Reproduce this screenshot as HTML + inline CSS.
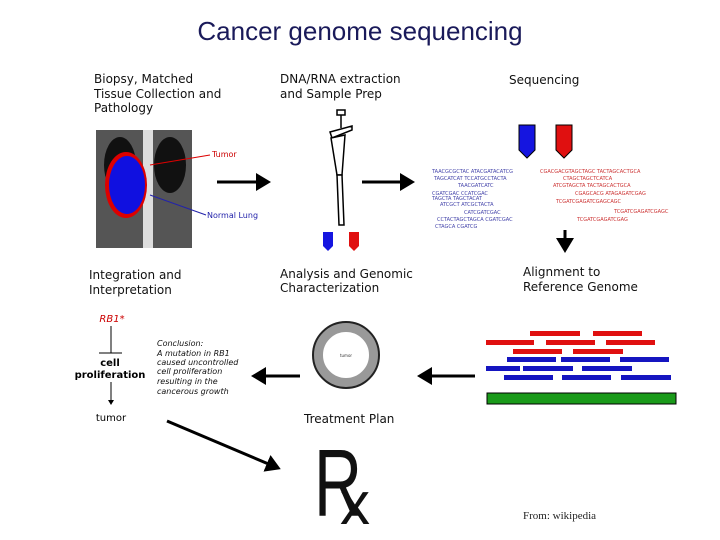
<!DOCTYPE html>
<html><head><meta charset="utf-8"><style>
body{margin:0;background:#fff}
svg{display:block}
text{font-family:"DejaVu Sans","Liberation Sans",sans-serif}
</style></head><body>
<svg width="720" height="540" viewBox="0 0 720 540">
<defs><marker id="ah" markerWidth="6" markerHeight="6" refX="4" refY="3" orient="auto" markerUnits="strokeWidth"><path d="M0,0 L5,3 L0,6 z" fill="#000"/></marker></defs>
<text x="360" y="40" text-anchor="middle" style="font-family:'Liberation Sans',sans-serif" font-size="26" fill="#1a1a5a">Cancer genome sequencing</text>
<g font-size="12" fill="#111">
<text x="94" y="83">Biopsy, Matched</text><text x="94" y="98">Tissue Collection and</text><text x="94" y="112">Pathology</text>
<text x="280" y="83">DNA/RNA extraction</text><text x="280" y="98">and Sample Prep</text>
<text x="509" y="84">Sequencing</text>
<text x="89" y="279">Integration and</text><text x="89" y="294">Interpretation</text>
<text x="280" y="278">Analysis and Genomic</text><text x="280" y="292">Characterization</text>
<text x="523" y="276">Alignment to</text><text x="523" y="291">Reference Genome</text>
<text x="304" y="423">Treatment Plan</text>
</g>
<rect x="96" y="130" width="96" height="118" fill="#555"/>
<ellipse cx="120" cy="165" rx="16" ry="28" fill="#111"/><ellipse cx="170" cy="165" rx="16" ry="28" fill="#111"/>
<rect x="143" y="130" width="10" height="118" fill="#ddd"/>
<ellipse cx="126" cy="185" rx="21" ry="33" fill="#d00"/><ellipse cx="127" cy="185" rx="18" ry="29" fill="#1010e0"/>
<line x1="210" y1="155" x2="150" y2="165" stroke="#d00"/><text x="212" y="157" font-size="8" fill="#c00">Tumor</text>
<line x1="206" y1="215" x2="150" y2="195" stroke="#22a"/><text x="207" y="218" font-size="8" fill="#22a">Normal Lung</text>
<g stroke="#000" stroke-width="3" marker-end="url(#ah)">
<line x1="217" y1="182" x2="268" y2="182"/>
<line x1="362" y1="182" x2="412" y2="182"/>
<line x1="565" y1="230" x2="565" y2="250"/>
<line x1="475" y1="376" x2="420" y2="376"/>
<line x1="300" y1="376" x2="254" y2="376"/>
<line x1="167" y1="421" x2="278" y2="468"/>
</g>
<g stroke="#000" stroke-width="1.5" fill="#fff">
<rect x="337" y="110" width="8" height="5"/><line x1="341" y1="115" x2="341" y2="128"/>
<path d="M330,132 L352,126 L352,130 L332,138 z"/>
<path d="M331,138 L345,135 L342,175 L337,175 z"/>
<path d="M337,175 L342,175 L344,225 L339,225 z"/>
</g>
<path d="M323,232h10v14l-5,5l-5,-5z" fill="#1515e0"/><path d="M349,232h10v14l-5,5l-5,-5z" fill="#e01010"/>
<path d="M519,125h16v25l-8,8l-8,-8z" fill="#1515e0" stroke="#000"/><path d="M556,125h16v25l-8,8l-8,-8z" fill="#e01010" stroke="#000"/>
<g font-size="5" fill="#44a">
<text x="432" y="173">TAACGCGCTAC ATACGATACATCG</text><text x="434" y="180">TAGCATCAT     TCCATGCCTACTA</text>
<text x="458" y="187">TAACGATCATC</text><text x="432" y="195">CGATCGAC        CCATCGAC</text>
<text x="432" y="200">TAGCTA TAGCTACAT</text><text x="440" y="206">ATCGCT           ATCGCTACTA</text>
<text x="464" y="214">CATCGATCGAC</text><text x="437" y="221">CCTACTAGCTAGCA   CGATCGAC</text><text x="435" y="228">CTAGCA CGATCG</text>
</g>
<g font-size="5" fill="#c33">
<text x="540" y="173">CGACGACGTAGCTAGC  TACTAGCACTGCA</text><text x="563" y="180">CTAGCTAGCTCATCA</text>
<text x="553" y="187">ATCGTAGCTA  TACTAGCACTGCA</text><text x="575" y="195">CGAGCACG    ATAGAGATCGAG</text>
<text x="556" y="203">TCGATCGAGATCGAGCAGC</text><text x="614" y="213">TCGATCGAGATCGAGC</text><text x="577" y="221">TCGATCGAGATCGAG</text>
</g>
<g fill="#e01010">
<rect x="530" y="331" width="50" height="5"/><rect x="593" y="331" width="49" height="5"/>
<rect x="486" y="340" width="48" height="5"/><rect x="546" y="340" width="49" height="5"/><rect x="606" y="340" width="49" height="5"/>
<rect x="513" y="349" width="49" height="5"/><rect x="573" y="349" width="50" height="5"/>
</g>
<g fill="#1515c0">
<rect x="507" y="357" width="49" height="5"/><rect x="561" y="357" width="49" height="5"/><rect x="620" y="357" width="49" height="5"/>
<rect x="486" y="366" width="34" height="5"/><rect x="523" y="366" width="50" height="5"/><rect x="582" y="366" width="50" height="5"/>
<rect x="504" y="375" width="49" height="5"/><rect x="562" y="375" width="49" height="5"/><rect x="621" y="375" width="50" height="5"/>
</g>
<rect x="487" y="393" width="189" height="11" fill="#1a9a1a" stroke="#000"/>
<circle cx="346" cy="355" r="28" fill="none" stroke="#999" stroke-width="10"/>
<circle cx="346" cy="355" r="33" fill="none" stroke="#222" stroke-width="2"/>
<text x="346" y="357" font-size="4" text-anchor="middle" fill="#333">tumor</text>
<text x="112" y="322" font-size="10" font-style="italic" fill="#c00" text-anchor="middle">RB1*</text>
<line x1="111" y1="326" x2="111" y2="353" stroke="#000"/><line x1="99" y1="353" x2="122" y2="353" stroke="#000"/>
<text x="110" y="366" font-size="10" font-weight="bold" text-anchor="middle">cell</text>
<text x="110" y="378" font-size="10" font-weight="bold" text-anchor="middle">proliferation</text>
<line x1="111" y1="382" x2="111" y2="404" stroke="#000" marker-end="url(#ah)"/>
<text x="111" y="421" font-size="10" text-anchor="middle">tumor</text>
<g font-size="8" font-style="italic" fill="#111">
<text x="157" y="346">Conclusion:</text><text x="157" y="356">A mutation in RB1</text><text x="157" y="365">caused uncontrolled</text>
<text x="157" y="374">cell proliferation</text><text x="157" y="384">resulting in the</text><text x="157" y="394">cancerous growth</text>
</g>
<text x="314" y="516" font-size="96" fill="#111" style="font-family:'Liberation Sans',sans-serif" textLength="48" lengthAdjust="spacingAndGlyphs">R</text>
<text x="340" y="524" font-size="60" fill="#111" style="font-family:'Liberation Sans',sans-serif">x</text>
<text x="523" y="519" font-size="11" fill="#222" style="font-family:'Liberation Serif',serif">From: wikipedia</text>
</svg>
</body></html>
